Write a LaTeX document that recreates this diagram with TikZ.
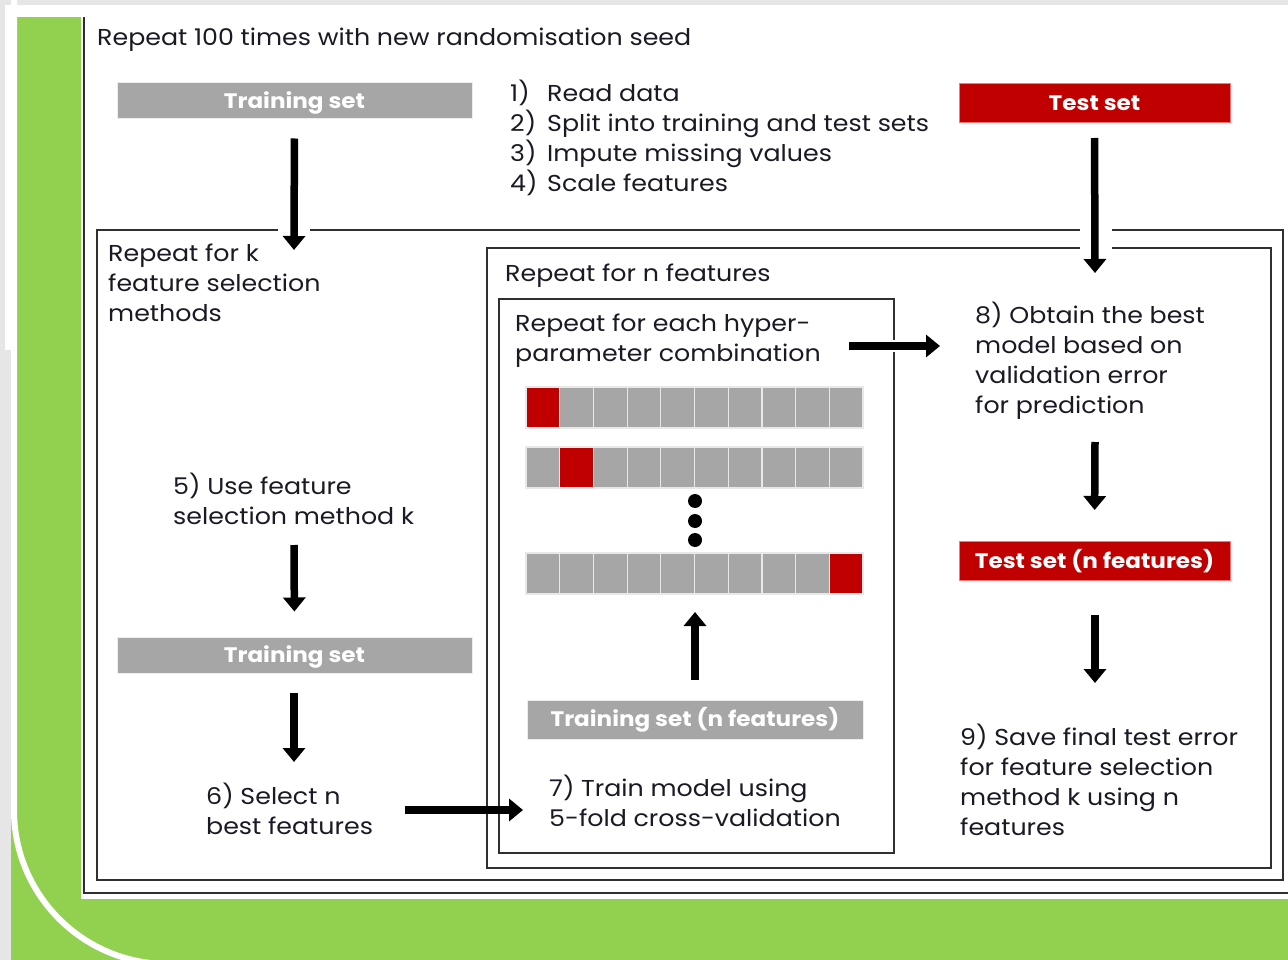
\documentclass[tikz,border=0pt]{standalone}
\usepackage{fontspec}
\setmainfont{Poppins}[FakeStretch=1.1]
\usetikzlibrary{arrows.meta}
\definecolor{sgreen}{HTML}{92D050}
\definecolor{sred}{HTML}{C00000}
\definecolor{sgray}{HTML}{A6A6A6}
\definecolor{bgray}{HTML}{E6E6E6}
\definecolor{ink}{HTML}{1A1A24}
\definecolor{fline}{HTML}{303030}
\begin{document}
\begin{tikzpicture}[x=1pt,y=-1pt,
  txt/.style={anchor=base west, inner sep=0pt, align=left, text=ink,
    font=\fontsize{23}{30}\selectfont},
  lbl/.style={inner sep=0pt, text=white, text height=14.7pt, text depth=0pt,
    font=\fontsize{21}{24}\selectfont\bfseries},
  gbox/.style={lbl, fill=sgray, draw=white!80!sgray, line width=1pt},
  rbox/.style={lbl, fill=sred, draw=red!55!white, line width=1pt},
  frameline/.style={draw=fline, line width=1.4pt},
  cell/.style={minimum width=33.7pt, minimum height=41pt, inner sep=0pt, draw=white!82!gray, line width=1.2pt},
  bigarrow/.style={line width=7.5pt, -{Triangle[width=22pt,length=14pt]}},
]
% background
\useasboundingbox (0,0) rectangle (1288,960);
\fill[bgray] (0,0) rectangle (1288,960);
\fill[white] (5,5) rectangle (1288,960);
\fill[bgray] (0,350) rectangle (11,960);
\fill[sgreen] (11,17) rectangle (1288,960);
\draw[white, line width=6pt, rounded corners=154pt] (14,-30) -- (14,964) -- (1400,964);
\fill[white] (81,5) rectangle (1288,899);

% frames
\draw[frameline] (84,17) -- (84,893) -- (1288,893);
\draw[frameline] (97,230) rectangle (1283,880);
\draw[frameline] (487,248) rectangle (1271,868);
\draw[frameline] (499,299) rectangle (894,853);
% gaps behind arrows
\fill[white] (278,222) rectangle (310,238);
\fill[white] (1080,222) rectangle (1112,256);
\fill[white] (888,340) rectangle (900,352);

% texts (anchor = baseline of the last line)
\node[txt] (title) at (97,46) {Repeat 100 times with new randomisation seed};
\node[txt] (steps) at (510,192) {\makebox[37pt][l]{1)}Read data\\\makebox[37pt][l]{2)}Split into training and test sets\\\makebox[37pt][l]{3)}Impute missing values\\\makebox[37pt][l]{4)}Scale features};
\node[txt] (repk) at (108,321) {Repeat for k\\feature selection\\methods};
\node[txt] (repn) at (505,281) {Repeat for n features};
\node[txt] (reph) at (515,361) {Repeat for each hyper-\\parameter combination};
\node[txt] (obtain) at (975,413) {8) Obtain the best\\model based on\\validation error\\for prediction};
\node[txt] (save) at (960,835) {9) Save final test error\\for feature selection\\method k using n\\features};
\node[txt] (usefs) at (173,524) {5) Use feature\\selection method k};
\node[txt] (select) at (206,834) {6) Select n\\best features};
\node[txt] (train) at (549,826) {7) Train model using\\5-fold cross-validation};

% boxes
\node[gbox, minimum width=355pt, minimum height=36pt] (ts1) at (294.5,101) {Training set};
\node[rbox, minimum width=271pt, minimum height=39pt] (test1) at (1094.5,103) {Test set};
\node[rbox, minimum width=271pt, minimum height=39pt] (testn) at (1094.5,561) {Test set (n features)};
\node[gbox, minimum width=355pt, minimum height=36pt] (ts2) at (294.5,655) {Training set};
\node[gbox, minimum width=336pt, minimum height=39pt] (tsn) at (695,719.5) {Training set (n features)};

% cross-validation cells
\foreach \y/\red in {407.5/1, 467.5/2, 573.5/10}{
  \foreach \i in {1,...,10}{
    \ifnum\i=\red \def\cc{sred}\else\def\cc{sgray}\fi
    \node[cell, fill=\cc] (c\red-\i) at ({526+(\i-0.5)*33.7},\y) {};
  }
}
\fill[black] (695,501) circle (7pt);
\fill[black] (695,521) circle (7pt);
\fill[black] (695,540) circle (7pt);

% arrow end points
\coordinate (e1) at (294,250);
\coordinate (e2) at (1095,273);
\coordinate (s3) at (849,346);
\coordinate (e3) at (940,346);
\coordinate (s4) at (1095,442);
\coordinate (s5) at (1095,615);
\coordinate (e5) at (1095,683);
\coordinate (e6) at (695,612);
\coordinate (s7) at (294,545);
\coordinate (s8) at (294,693);
\coordinate (e8) at (294,762);
\coordinate (s9) at (405,810);
\coordinate (e9) at (523,810);

\draw[bigarrow, shorten <=19pt] (ts1.south) -- (e1);
\draw[bigarrow, shorten <=15pt] (test1.south) -- (e2);
\draw[bigarrow] (s3) -- (e3);
\draw[bigarrow, shorten >=31pt] (s4) -- (testn.north);
\draw[bigarrow] (s5) -- (e5);
\draw[bigarrow, shorten <=20pt] (tsn.north) -- (e6);
\draw[bigarrow, shorten >=25pt] (s7) -- (ts2.north);
\draw[bigarrow] (s8) -- (e8);
\draw[bigarrow] (s9) -- (e9);
\end{tikzpicture}
\end{document}
